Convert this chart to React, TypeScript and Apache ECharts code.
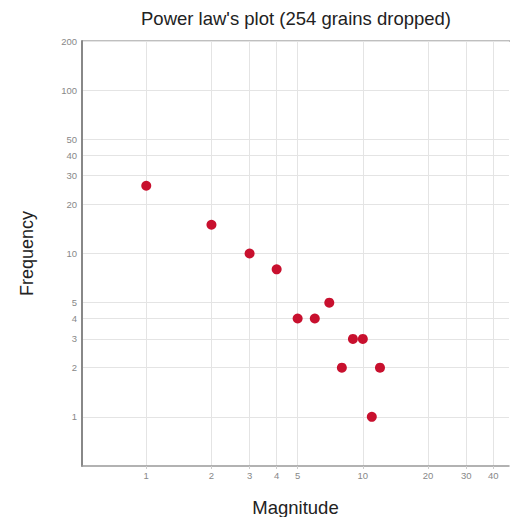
import React, { useEffect, useRef } from "react";
import * as echarts from "echarts";

// Avalanche sizes (magnitude) and how often each occurred
const magnitudes = [1, 2, 3, 4, 5, 6, 7, 9, 10, 8, 12, 11];
const frequencies = [26, 15, 10, 8, 4, 4, 5, 3, 3, 2, 2, 1];

// Tick values on the log-log axes
const xTicks = [1, 2, 3, 4, 5, 10, 20, 30, 40];
const yTicks = [1, 2, 3, 4, 5, 10, 20, 30, 40, 50, 100, 200];

const X_MIN = 0.505;
const X_MAX = 47.3;
const Y_MIN = 0.5;
const Y_MAX = 200;

const lg = (v: number) => Math.log10(v);
const fmt = (v: number) => String(Math.round(Math.pow(10, v)));

export default function App() {
  const ref = useRef<HTMLDivElement>(null);

  useEffect(() => {
    if (!ref.current) return;
    const chart = echarts.init(ref.current, undefined, { renderer: "svg" });
    const font = "Liberation Sans, Arial, Helvetica, sans-serif";
    chart.setOption({
      animation: false,
      backgroundColor: "#ffffff",
      title: {
        text: "Power law's plot (254 grains dropped)",
        left: 291,
        top: 4,
        textAlign: "center",
        textStyle: { fontSize: 18.5, fontWeight: "normal", color: "#222", fontFamily: font },
      },
      grid: { left: 82, right: 1, top: 41, bottom: 51, outerBoundsMode: "none", containLabel: false },
      xAxis: {
        type: "value",
        min: lg(X_MIN),
        max: lg(X_MAX),
        name: "Magnitude",
        nameLocation: "middle",
        nameGap: 32,
        nameTextStyle: { fontSize: 18.5, color: "#222", fontFamily: font },
        axisLine: { show: true, onZero: false, lineStyle: { color: "#999", width: 1.5 } },
        axisTick: { show: true, customValues: xTicks.map(lg), length: 3, lineStyle: { color: "#ccc" } },
        axisLabel: {
          customValues: xTicks.map(lg),
          formatter: (v: number) => fmt(v),
          fontSize: 9.5,
          color: "#888",
          margin: 4,
          fontFamily: font,
        },
        splitLine: { show: true, lineStyle: { color: "#e4e4e4", width: 1 } },
      },
      yAxis: {
        type: "value",
        min: lg(Y_MIN),
        max: lg(Y_MAX),
        name: "Frequency",
        nameLocation: "middle",
        nameGap: 46,
        nameTextStyle: { fontSize: 18, color: "#222", fontFamily: font },
        axisLine: { show: true, onZero: false, lineStyle: { color: "#888", width: 2 } },
        axisTick: { show: false, customValues: yTicks.map(lg) },
        axisLabel: {
          customValues: yTicks.map(lg),
          formatter: (v: number) => fmt(v),
          fontSize: 9.5,
          color: "#888",
          margin: 5,
          fontFamily: font,
        },
        splitLine: { show: true, lineStyle: { color: "#e4e4e4", width: 1 } },
      },
      graphic: [
        {
          type: "line",
          shape: { x1: 82, y1: 41, x2: 510, y2: 41 },
          style: { stroke: "#aaa", lineWidth: 1.5 },
        },
      ],
      series: [
        {
          type: "scatter",
          symbolSize: 10,
          itemStyle: { color: "#c8102e", opacity: 1 },
          data: magnitudes.map((m, i) => [lg(m), lg(frequencies[i])]),
        },
      ],
    });
    return () => chart.dispose();
  }, []);

  return (
    <div
      ref={ref}
      style={{ position: "fixed", left: 0, top: 0, width: 510, height: 517, background: "#fff" }}
    />
  );
}
